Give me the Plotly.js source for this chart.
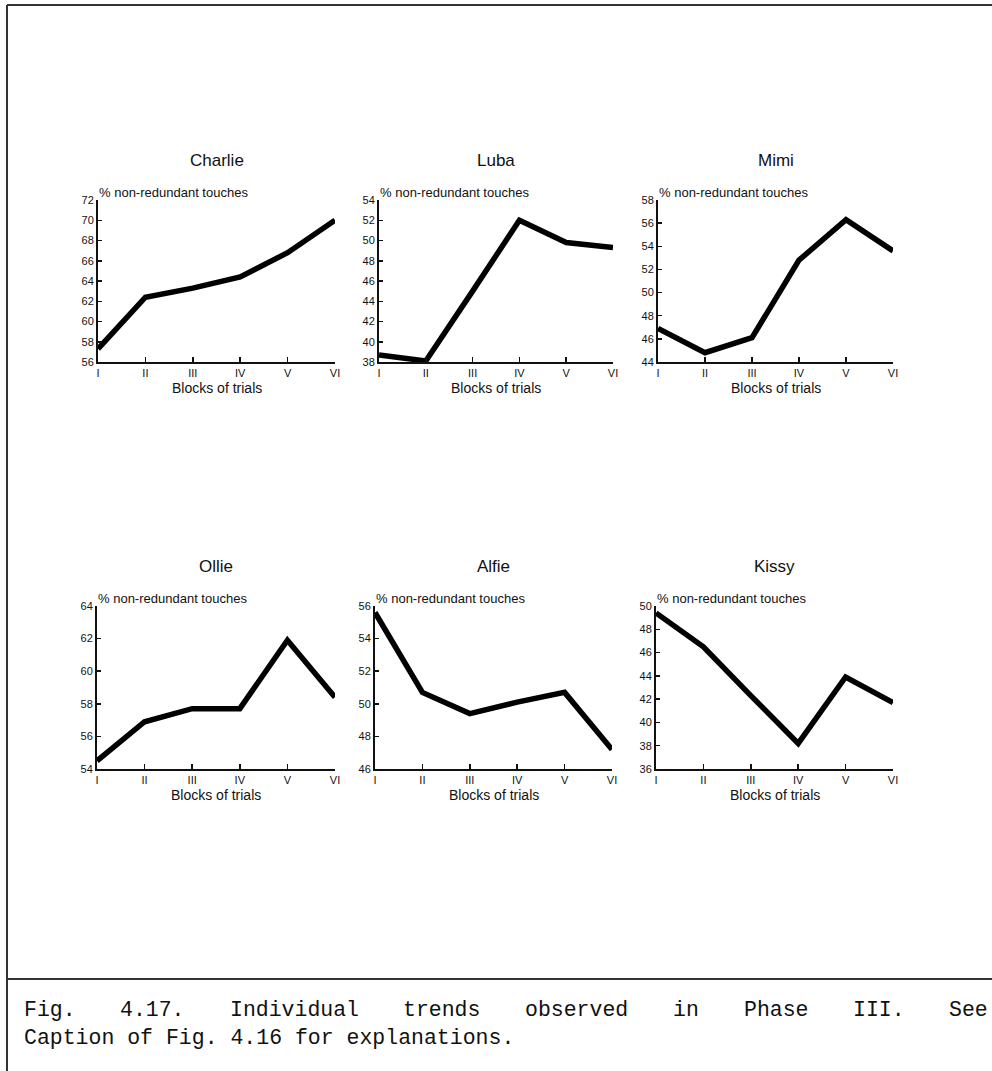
<!DOCTYPE html>
<html><head><meta charset="utf-8">
<script src="https://cdn.plot.ly/plotly-3.0.1.min.js"></script>
<style>html,body{margin:0;padding:0;background:#fff}#chart{width:992px;height:1071px}</style>
</head><body><div id="chart"></div>
<script>
// ---- data ----
const blocks = ["I", "II", "III", "IV", "V", "VI"];
const names = ["Charlie", "Luba", "Mimi", "Ollie", "Alfie", "Kissy"];
const charlie = [57.3, 62.4, 63.3, 64.4, 66.8, 70.0];
const luba    = [38.7, 38.1, 45.0, 52.0, 49.8, 49.3];
const mimi    = [46.9, 44.8, 46.1, 52.8, 56.3, 53.6];
const ollie   = [54.5, 56.9, 57.7, 57.7, 61.9, 58.4];
const alfie   = [55.6, 50.7, 49.4, 50.1, 50.7, 47.2];
const kissy   = [49.4, 46.5, 42.3, 38.2, 43.9, 41.7];
const yRanges = [[56, 72], [38, 54], [44, 58], [54, 64], [46, 56], [36, 50]];
const yTitle = "% non-redundant touches";
const xTitle = "Blocks of trials";
const captionLine1 = ["Fig.", "4.17.", "Individual", "trends", "observed", "in", "Phase", "III.", "See"];
const captionLine2 = "Caption of Fig. 4.16 for explanations.";

// ---- layout ----
const W = 992, H = 1071;
const series = [charlie, luba, mimi, ollie, alfie, kissy];
const boxes = [[98,335,200,362],[379,613,200,362],[658,893,200,362],
               [97,335,606,769],[375,612,606,769],[656,893,606,769]];
const px = v => v / W;
const py = v => 1 - v / H;
const sansFont = "Liberation Sans, Arial, sans-serif";

const data = [];
const layout = {
  width: W, height: H,
  margin: {l: 0, r: 0, t: 0, b: 0},
  paper_bgcolor: "#fff", plot_bgcolor: "#fff",
  showlegend: false,
  annotations: [], shapes: []
};

series.forEach((vals, i) => {
  const k = i === 0 ? "" : String(i + 1);
  const b = boxes[i];
  data.push({
    x: blocks, y: vals, type: "scatter", mode: "lines",
    xaxis: "x" + k, yaxis: "y" + k,
    line: {color: "#000", width: 5.5}, hoverinfo: "skip"
  });
  layout["xaxis" + k] = {
    domain: [px(b[0]), px(b[1])], anchor: "y" + k,
    type: "category", range: [0, 5],
    showgrid: false, zeroline: false,
    showline: true, linecolor: "#111", linewidth: 2,
    ticks: "inside", ticklen: 5, tickwidth: 1.5, tickcolor: "#111",
    tickfont: {family: sansFont, size: 11, color: "#111"},
    fixedrange: true
  };
  layout["yaxis" + k] = {
    domain: [py(b[3]), py(b[2])], anchor: "x" + k,
    range: yRanges[i], tick0: yRanges[i][0], dtick: 2,
    showgrid: false, zeroline: false,
    showline: true, linecolor: "#111", linewidth: 2,
    ticks: "inside", ticklen: 4, tickwidth: 1.5, tickcolor: "#111",
    tickfont: {family: sansFont, size: 11, color: "#111"},
    fixedrange: true
  };
  const cx = (b[0] + b[1]) / 2;
  layout.annotations.push(
    {text: names[i], xref: "paper", yref: "paper", x: px(cx), y: py(b[2] - 40),
     xanchor: "center", yanchor: "middle", showarrow: false,
     font: {family: sansFont, size: 17, color: "#111"}},
    {text: yTitle, xref: "paper", yref: "paper", x: px(b[0] - 1), y: py(b[2] - 8),
     xanchor: "left", yanchor: "middle", showarrow: false,
     font: {family: sansFont, size: 13, color: "#111"}},
    {text: xTitle, xref: "paper", yref: "paper", x: px(cx), y: py(b[3] + 26),
     xanchor: "center", yanchor: "middle", showarrow: false,
     font: {family: sansFont, size: 14, color: "#111"}}
  );
});

// frame lines
const lineStyle = {color: "#333", width: 2};
layout.shapes.push(
  {type: "line", xref: "paper", yref: "paper", x0: px(7), x1: 1, y0: py(5), y1: py(5), line: lineStyle},
  {type: "line", xref: "paper", yref: "paper", x0: px(7), x1: px(7), y0: py(5), y1: 0, line: lineStyle},
  {type: "line", xref: "paper", yref: "paper", x0: px(7), x1: 1, y0: py(979), y1: py(979), line: lineStyle}
);

// caption (line 1 justified)
const capFamily = "Liberation Mono";
const capSize = 21.5;
const cv = document.createElement("canvas").getContext("2d");
cv.font = capSize + "px '" + capFamily + "', monospace";
const left = 22, right = 986;
const widths = captionLine1.map(w => cv.measureText(w).width);
const total = widths.reduce((a, c) => a + c, 0);
const gap = (right - left - total) / (captionLine1.length - 1);
let xpos = left;
captionLine1.forEach((w, j) => {
  layout.annotations.push({text: w, xref: "paper", yref: "paper", x: px(xpos), y: py(1010),
    xanchor: "left", yanchor: "middle", showarrow: false,
    font: {family: capFamily + ", monospace", size: capSize, color: "#111"}});
  xpos += widths[j] + gap;
});
layout.annotations.push({text: captionLine2, xref: "paper", yref: "paper", x: px(left), y: py(1038),
  xanchor: "left", yanchor: "middle", showarrow: false,
  font: {family: capFamily + ", monospace", size: capSize, color: "#111"}});

Plotly.newPlot("chart", data, layout, {staticPlot: true, displayModeBar: false});
</script></body></html>
